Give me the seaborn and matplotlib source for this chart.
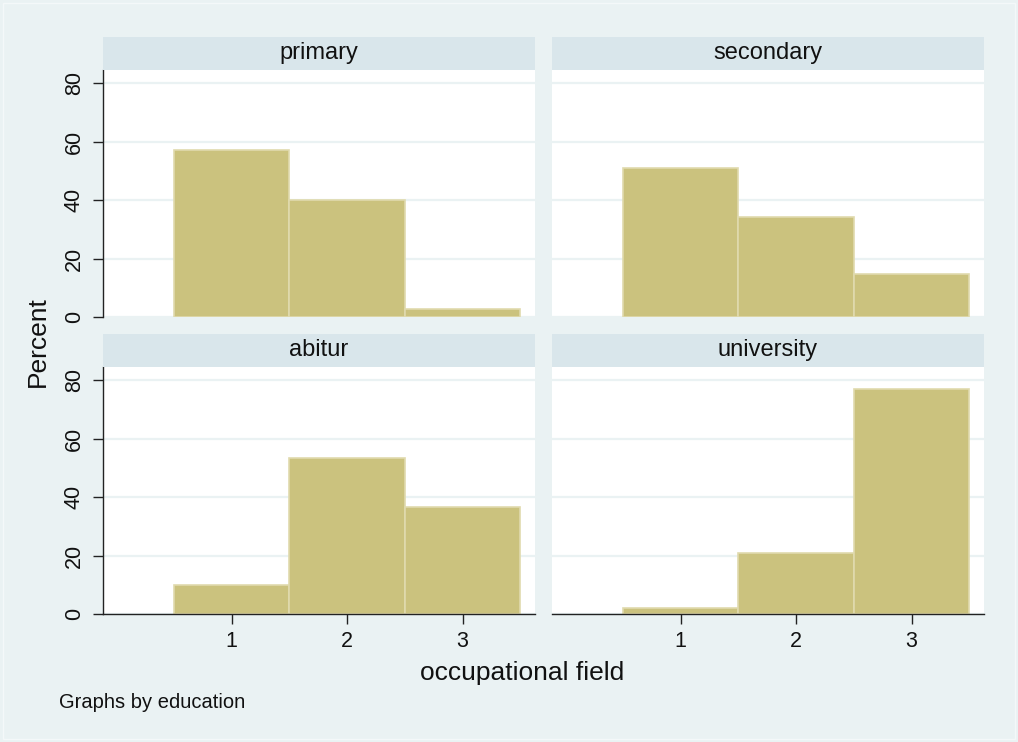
import matplotlib
matplotlib.use("Agg")
import matplotlib.pyplot as plt
import seaborn as sns
import pandas as pd
from matplotlib.patches import Rectangle

# ---- data ----
education = ["primary", "secondary", "abitur", "university"]
fields = [1, 2, 3]
pct_primary = [57.3, 40.1, 2.6]
pct_secondary = [51.1, 34.1, 14.8]
pct_abitur = [9.9, 53.6, 36.5]
pct_university = [2.1, 20.9, 77.0]
y_ticks = [0, 20, 40, 60, 80]
x_ticks = [1, 2, 3]

values = {"primary": pct_primary, "secondary": pct_secondary,
          "abitur": pct_abitur, "university": pct_university}
rows = []
for ed in education:
    for f, v in zip(fields, values[ed]):
        rows.append({"education": ed, "field": f, "percent": v})
df = pd.DataFrame(rows)

# ---- style ----
sns.set_theme(style="white")
plt.rcParams["font.family"] = ["Liberation Sans", "DejaVu Sans"]

BG = "#EAF2F3"
STRIP = "#D9E6EB"
BAR = "#CBC27E"
BAR_EDGE = "#E0DAAE"
GRID = "#EAF2F3"

W, H = 1018, 742
fig = plt.figure(figsize=(W / 100, H / 100), dpi=100, facecolor=BG)

def fx(px):
    return px / W

def fy(py):
    return 1 - py / H

cols_x = [(103, 535), (552, 984)]
rows_y = [(70, 317), (367, 614)]
strip_y = [(37, 70), (334, 367)]

for i, ed in enumerate(education):
    r, c = divmod(i, 2)
    x0, x1 = cols_x[c]
    y0, y1 = rows_y[r]
    ax = fig.add_axes([fx(x0), fy(y1), fx(x1 - x0), (y1 - y0) / H])
    ax.set_facecolor("white")
    sub = df[df["education"] == ed]
    for yt in y_ticks:
        ax.axhline(yt, color=GRID, lw=1.6, zorder=0)
    sns.histplot(data=sub, x="field", weights="percent", discrete=True,
                 stat="count", color=BAR, edgecolor=BAR_EDGE, linewidth=1.2,
                 alpha=1, ax=ax, zorder=2)
    ax.set_xlim(-0.115, 3.627)
    ax.set_ylim(0, 84.6)
    ax.set_xlabel("")
    ax.set_ylabel("")
    for s in ax.spines.values():
        s.set_visible(False)
    ax.set_yticks(y_ticks)
    ax.set_xticks(x_ticks)
    if c == 0:
        ax.spines["left"].set_visible(True)
        ax.spines["left"].set_color("#222222")
        ax.spines["left"].set_linewidth(1.0)
        ax.tick_params(axis="y", which="both", left=True, length=7, width=1.0,
                       color="#222222", direction="out", pad=6, labelsize=15.5,
                       labelcolor="#111111")
        for lab in ax.get_yticklabels():
            lab.set_rotation(90)
            lab.set_va("center")
    else:
        ax.tick_params(axis="y", left=False, labelleft=False)
    if r == 1:
        ax.spines["bottom"].set_visible(True)
        ax.spines["bottom"].set_color("#222222")
        ax.spines["bottom"].set_linewidth(1.0)
        ax.tick_params(axis="x", which="both", bottom=True, length=7, width=1.0,
                       color="#222222", direction="out", pad=5, labelsize=15.5,
                       labelcolor="#111111")
    else:
        ax.tick_params(axis="x", bottom=False, labelbottom=False)
    ax.grid(False)
    # strip
    sy0, sy1 = strip_y[r]
    fig.patches.append(Rectangle((fx(x0), fy(sy1)), fx(x1 - x0), (sy1 - sy0) / H,
                                 transform=fig.transFigure, facecolor=STRIP,
                                 edgecolor="none", zorder=1))
    fig.text(fx((x0 + x1) / 2), fy((sy0 + sy1) / 2), ed, ha="center", va="center",
             fontsize=17, color="#111111")

fig.text(fx(38), fy(342), "Percent", rotation=90, ha="center", va="center",
         fontsize=19, color="#111111")
fig.text(fx(522), fy(673), "occupational field", ha="center", va="center",
         fontsize=19, color="#111111")
fig.text(fx(59), fy(702), "Graphs by education", ha="left", va="center",
         fontsize=14.5, color="#111111")

# thin light frame around the graph region
fig.patches.append(Rectangle((0.003, 0.004), 0.994, 0.992, transform=fig.transFigure,
                             facecolor="none", edgecolor="#F4F8F9", lw=1.0, zorder=0))

fig.savefig("out.png", dpi=100, facecolor=BG)
